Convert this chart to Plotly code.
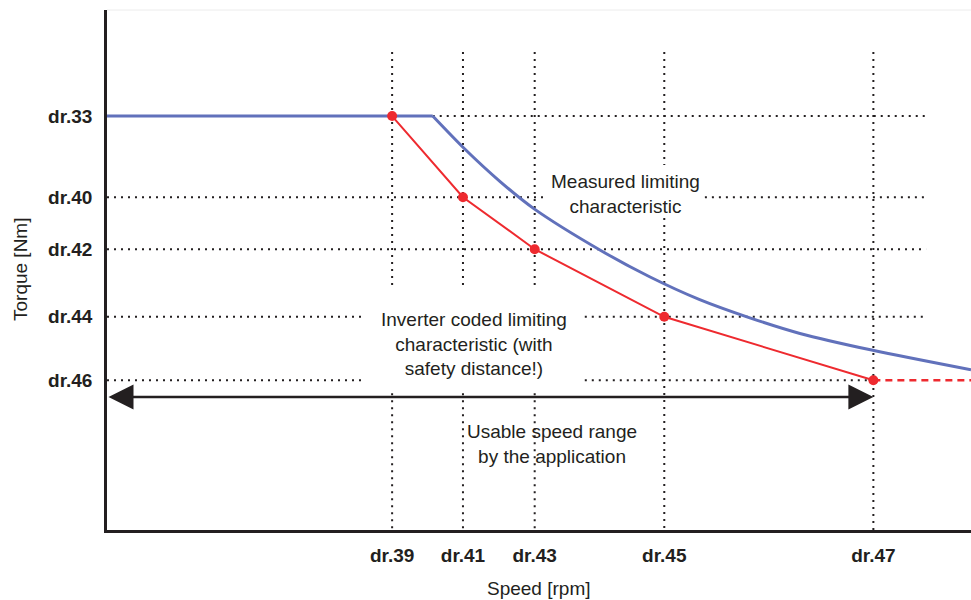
import plotly.graph_objects as go

# speed axis (arbitrary units) and parameter tick labels
speed_ticks = [33.0, 41.2, 49.5, 64.5, 88.7]
speed_labels = ["dr.39", "dr.41", "dr.43", "dr.45", "dr.47"]
torque_ticks = [79.6, 64.0, 54.0, 41.0, 28.8]
torque_labels = ["dr.33", "dr.40", "dr.42", "dr.44", "dr.46"]

# measured limiting characteristic (blue): flat part + falling part
meas_flat_speed = [0, 37.7]
meas_flat_torque = [79.6, 79.6]
meas_speed = [37.7, 41.2, 45.5, 49.4, 57.1, 62.8, 68.6, 74.4, 80.2, 88.5, 100]
meas_torque = [79.6, 73.6, 67.0, 61.8, 53.8, 48.7, 44.3, 40.8, 37.8, 34.6, 30.8]

# inverter coded limiting characteristic (red)
inv_speed = [33.0, 41.2, 49.5, 64.5, 88.7]
inv_torque = [79.6, 64.0, 54.0, 41.0, 28.8]
inv_ext_speed = [88.7, 100]
inv_ext_torque = [28.8, 28.8]

usable_y = 25.6

TXT = "#231f20"
FONT = "Liberation Sans, Arial, sans-serif"
GRID = dict(color="#231f20", width=2, dash="2px,5px")
BLUE = "#6171bb"
RED = "#ee2a2f"

fig = go.Figure()

shapes = []
def seg(x0, y0, x1, y1):
    shapes.append(dict(type="line", xref="x", yref="y", x0=x0, y0=y0, x1=x1, y1=y1,
                       line=GRID, layer="below"))

# horizontal dotted guides (broken where text sits)
x_end = 94.8
seg(37.7, torque_ticks[0], x_end, torque_ticks[0])
seg(0, torque_ticks[1], 50.7, torque_ticks[1])
seg(69.2, torque_ticks[1], x_end, torque_ticks[1])
seg(0, torque_ticks[2], x_end, torque_ticks[2])
seg(0, torque_ticks[3], 29.9, torque_ticks[3])
seg(55.3, torque_ticks[3], x_end, torque_ticks[3])
seg(0, torque_ticks[4], 29.9, torque_ticks[4])
seg(55.3, torque_ticks[4], speed_ticks[4], torque_ticks[4])

# vertical dotted guides
y_top = 91.9
for xv in speed_ticks[:3]:
    seg(xv, y_top, xv, 46.2)
    seg(xv, 26.3, xv, 0)
seg(speed_ticks[3], y_top, speed_ticks[3], 70.2)
seg(speed_ticks[3], 60.0, speed_ticks[3], 0)
seg(speed_ticks[4], y_top, speed_ticks[4], 0)

# faint top border
shapes.append(dict(type="line", xref="paper", yref="paper", x0=0, x1=1, y0=1, y1=1,
                   line=dict(color="#ececec", width=1)))

fig.add_trace(go.Scatter(x=meas_flat_speed, y=meas_flat_torque, mode="lines",
                         line=dict(color=BLUE, width=3), hoverinfo="skip"))
fig.add_trace(go.Scatter(x=meas_speed, y=meas_torque, mode="lines",
                         line=dict(color=BLUE, width=3, shape="spline", smoothing=0.8),
                         hoverinfo="skip"))
fig.add_trace(go.Scatter(x=inv_ext_speed, y=inv_ext_torque, mode="lines",
                         line=dict(color=RED, width=2.5, dash="7px,5px"),
                         hoverinfo="skip"))
fig.add_trace(go.Scatter(x=inv_speed, y=inv_torque, mode="lines+markers",
                         line=dict(color=RED, width=2),
                         marker=dict(color=RED, size=10),
                         hoverinfo="skip"))

TFONT = dict(family=FONT, size=19, color=TXT)
annotations = [
    # usable speed range arrow
    dict(x=speed_ticks[4], y=usable_y, ax=0, ay=usable_y, xref="x", yref="y",
         axref="x", ayref="y", text="", showarrow=True, arrowhead=2,
         arrowside="end+start", arrowsize=2, arrowwidth=2.5, arrowcolor=TXT),
    dict(x=60.0, y=64.7, xref="x", yref="y", showarrow=False,
         text="Measured limiting<br>characteristic", font=TFONT),
    dict(x=42.5, y=35.8, xref="x", yref="y", showarrow=False,
         text="Inverter coded limiting<br>characteristic (with<br>safety distance!)",
         font=TFONT),
    dict(x=51.5, y=16.6, xref="x", yref="y", showarrow=False,
         text="Usable speed range<br>by the application", font=TFONT),
    # axis titles
    dict(x=0.5, y=0, xref="paper", yref="paper", yshift=-58, showarrow=False,
         yanchor="middle", text="Speed [rpm]", font=TFONT),
    dict(x=0, y=0.5, xref="paper", yref="paper", xshift=-87, showarrow=False,
         xanchor="center", textangle=-90, text="Torque [Nm]", font=TFONT),
]

fig.update_layout(
    width=971, height=600,
    margin=dict(l=107, r=0, t=10, b=70),
    plot_bgcolor="white", paper_bgcolor="white",
    showlegend=False,
    shapes=shapes,
    annotations=annotations,
    font=dict(family=FONT, color=TXT),
)
TICKF = dict(family=FONT, size=19, color=TXT, weight="bold")
fig.update_xaxes(range=[0, 100], showgrid=False, zeroline=False,
                 showline=True, linecolor=TXT, linewidth=2.5,
                 tickvals=speed_ticks, ticktext=speed_labels, tickfont=TICKF,
                 ticks="", ticklabelstandoff=6)
fig.update_yaxes(range=[0, 100], showgrid=False, zeroline=False,
                 showline=True, linecolor=TXT, linewidth=2.5,
                 tickvals=torque_ticks, ticktext=torque_labels, tickfont=TICKF,
                 ticks="", ticklabelstandoff=8)

fig.write_html("out.html", config={"displayModeBar": False},
               post_script="document.body.style.margin='0';")
